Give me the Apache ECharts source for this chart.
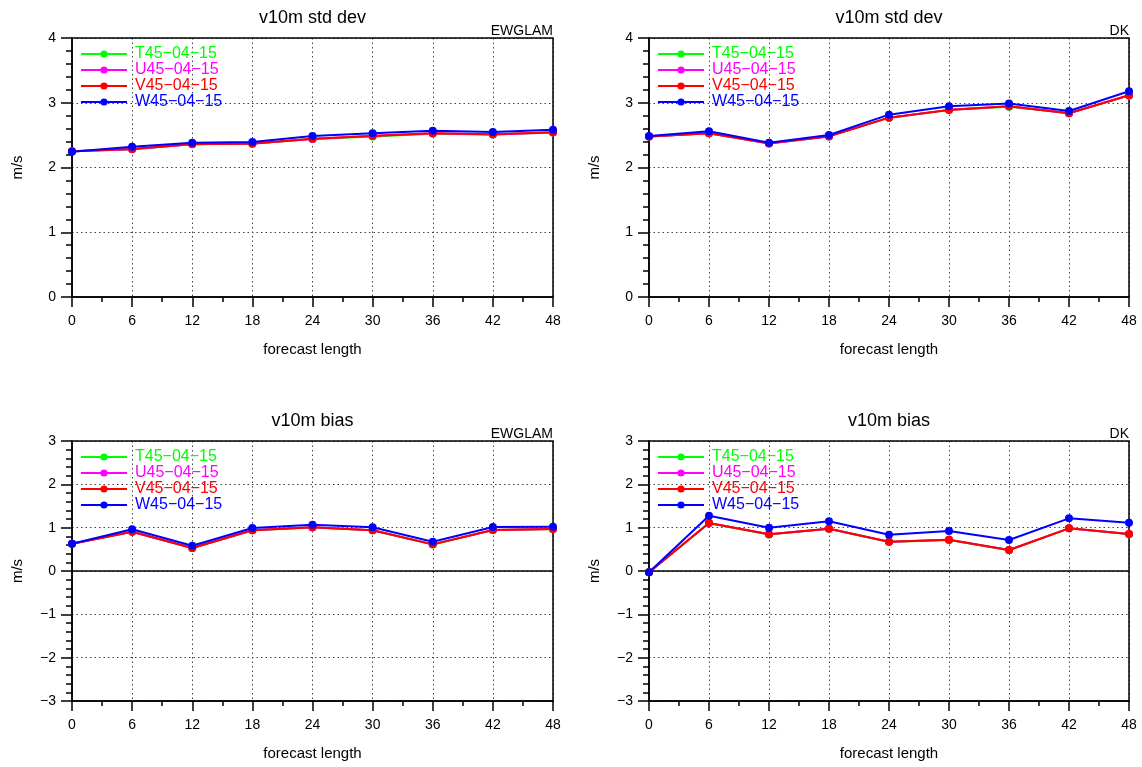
<!DOCTYPE html>
<html>
<head>
<meta charset="utf-8">
<script src="https://cdn.jsdelivr.net/npm/echarts@6/dist/echarts.min.js"></script>
<style>html,body{margin:0;padding:0;background:#fff}#c{width:1142px;height:767px}</style>
</head>
<body>
<div id="c"></div>
<script>
const hours = [0, 6, 12, 18, 24, 30, 36, 42, 48];
const seriesNames = ['T45\u221204\u221215', 'U45\u221204\u221215', 'V45\u221204\u221215', 'W45\u221204\u221215'];
const seriesColors = ['#00ff00', '#ff00ff', '#ff0000', '#0000ff'];

// std dev EWGLAM
const stdEW_T = [2.25, 2.28, 2.36, 2.37, 2.44, 2.48, 2.52, 2.51, 2.54];
const stdEW_U = [2.25, 2.28, 2.36, 2.37, 2.44, 2.49, 2.53, 2.51, 2.54];
const stdEW_V = [2.25, 2.285, 2.363, 2.368, 2.445, 2.486, 2.528, 2.512, 2.543];
const stdEW_W = [2.244, 2.32, 2.383, 2.394, 2.486, 2.528, 2.569, 2.548, 2.584];
// std dev DK
const stdDK_T = [2.48, 2.53, 2.37, 2.48, 2.77, 2.89, 2.94, 2.84, 3.11];
const stdDK_U = [2.48, 2.53, 2.37, 2.48, 2.77, 2.89, 2.945, 2.837, 3.115];
const stdDK_V = [2.48, 2.528, 2.373, 2.481, 2.77, 2.888, 2.945, 2.837, 3.115];
const stdDK_W = [2.486, 2.559, 2.383, 2.502, 2.816, 2.945, 2.99, 2.873, 3.177];
// bias EWGLAM
const biasEW_T = [0.63, 0.905, 0.53, 0.94, 1.005, 0.94, 0.61, 0.945, 0.97];
const biasEW_U = [0.63, 0.907, 0.531, 0.939, 1.008, 0.939, 0.615, 0.946, 0.969];
const biasEW_V = [0.63, 0.907, 0.531, 0.939, 1.008, 0.939, 0.615, 0.946, 0.969];
const biasEW_W = [0.63, 0.962, 0.584, 0.992, 1.069, 1.008, 0.677, 1.015, 1.023];
// bias DK
const biasDK_T = [-0.03, 1.10, 0.84, 0.975, 0.67, 0.715, 0.48, 0.985, 0.85];
const biasDK_U = [-0.03, 1.108, 0.846, 0.977, 0.677, 0.723, 0.485, 0.985, 0.854];
const biasDK_V = [-0.03, 1.108, 0.846, 0.977, 0.677, 0.723, 0.485, 0.985, 0.854];
const biasDK_W = [-0.03, 1.277, 1.0, 1.146, 0.838, 0.923, 0.715, 1.215, 1.115];

const yTicksStd = { min: 0, max: 4, interval: 1 };
const yTicksBias = { min: -3, max: 3, interval: 1 };

const panels = [
  { title: 'v10m std dev', tag: 'EWGLAM', left: 72, top: 38, width: 481, height: 259, y: yTicksStd, data: [stdEW_T, stdEW_U, stdEW_V, stdEW_W], zero: false },
  { title: 'v10m std dev', tag: 'DK', left: 649, top: 38, width: 480, height: 259, y: yTicksStd, data: [stdDK_T, stdDK_U, stdDK_V, stdDK_W], zero: false },
  { title: 'v10m bias', tag: 'EWGLAM', left: 72, top: 441, width: 481, height: 260, y: yTicksBias, data: [biasEW_T, biasEW_U, biasEW_V, biasEW_W], zero: true },
  { title: 'v10m bias', tag: 'DK', left: 649, top: 441, width: 480, height: 260, y: yTicksBias, data: [biasDK_T, biasDK_U, biasDK_V, biasDK_W], zero: true }
];

const W = 1142;
const FONT = 'Liberation Sans, Arial, Helvetica, sans-serif';
const option = { animation: false, backgroundColor: '#fff', title: [], grid: [], xAxis: [], yAxis: [], legend: [], series: [] };

panels.forEach((p, i) => {
  option.grid.push({ left: p.left, top: p.top, width: p.width, height: p.height, show: true, borderColor: '#000', borderWidth: 1.5, backgroundColor: 'transparent', z: 3 });
  option.title.push({ text: p.title, left: p.left + p.width / 2, top: p.top - 29, textAlign: 'center', padding: 0,
    textStyle: { fontFamily: FONT, fontSize: 18, fontWeight: 'normal', color: '#000' } });
  option.title.push({ text: p.tag, right: W - (p.left + p.width), top: p.top - 14, padding: 0,
    textStyle: { fontFamily: FONT, fontSize: 14, fontWeight: 'normal', color: '#000' } });
  option.xAxis.push({
    type: 'value', gridIndex: i, min: 0, max: 48, interval: 6,
    name: 'forecast length', nameLocation: 'middle', nameGap: 45,
    nameTextStyle: { fontFamily: FONT, fontSize: 15, color: '#000' },
    axisLine: { show: true, onZero: false, lineStyle: { color: '#000', width: 1.5 } },
    axisTick: { show: true, inside: false, length: 10, lineStyle: { color: '#000', width: 1.5 } },
    minorTick: { show: true, splitNumber: 2, length: 5, lineStyle: { color: '#000', width: 1.5 } },
    axisLabel: { fontFamily: FONT, fontSize: 14, color: '#000', margin: 17 },
    splitLine: { show: true, lineStyle: { color: '#444', type: [1.5, 3], width: 1 } }
  });
  option.yAxis.push({
    type: 'value', gridIndex: i, min: p.y.min, max: p.y.max, interval: p.y.interval,
    name: 'm/s', nameLocation: 'middle', nameGap: 47,
    nameTextStyle: { fontFamily: FONT, fontSize: 15, color: '#000' },
    axisLine: { show: true, onZero: false, lineStyle: { color: '#000', width: 1.5 } },
    axisTick: { show: true, inside: false, length: 11, lineStyle: { color: '#000', width: 1.5 } },
    minorTick: { show: true, splitNumber: 5, length: 6, lineStyle: { color: '#000', width: 1.5 } },
    axisLabel: { fontFamily: FONT, fontSize: 14, color: '#000', margin: 16, formatter: v => String(v).replace('-', '\u2212') },
    splitLine: { show: true, lineStyle: { color: '#444', type: [1.5, 3], width: 1 } }
  });
  option.legend.push({
    left: p.left + 8, top: p.top + 8, orient: 'vertical', itemWidth: 46, itemHeight: 9, itemGap: 0,
    padding: 0, selectedMode: false,
    textStyle: { fontFamily: FONT, fontSize: 16, lineHeight: 16, padding: [0, 0, 0, 3] },
    data: seriesNames.map((n, k) => ({ name: n, textStyle: { color: seriesColors[k] } }))
  });
  seriesNames.forEach((n, k) => {
    const s = {
      name: n, type: 'line', xAxisIndex: i, yAxisIndex: i,
      data: hours.map((h, j) => [h, p.data[k][j]]),
      symbol: 'circle', symbolSize: 8,
      lineStyle: { color: seriesColors[k], width: 2 },
      itemStyle: { color: seriesColors[k] },
      z: 4 + k
    };
    if (k === 0 && p.zero) {
      s.markLine = { silent: true, symbol: 'none', label: { show: false },
        lineStyle: { color: '#000', type: 'solid', width: 1.5 }, data: [{ yAxis: 0 }] };
    }
    option.series.push(s);
  });
});

const chart = echarts.init(document.getElementById('c'), null, { renderer: 'canvas' });
chart.setOption(option);
</script>
</body>
</html>
